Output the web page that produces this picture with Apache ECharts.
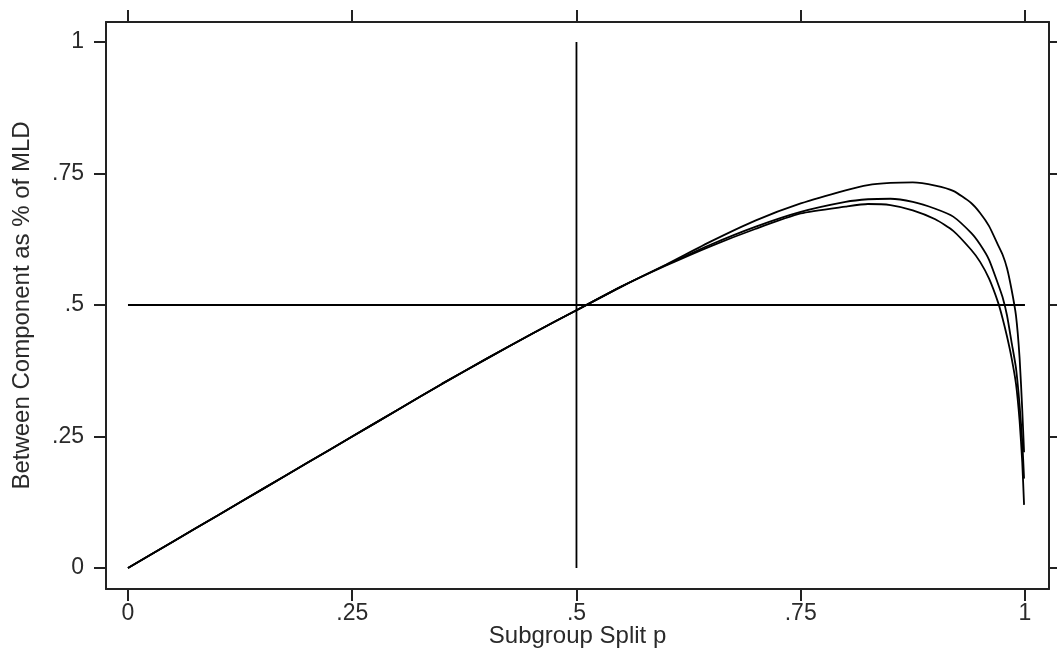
<!DOCTYPE html>
<html>
<head>
<meta charset="utf-8">
<script src="https://cdn.jsdelivr.net/npm/echarts@6/dist/echarts.min.js"></script>
<style>
html,body{margin:0;padding:0;background:#fff;}
#chart{width:1057px;height:654px;}
</style>
</head>
<body>
<div id="chart"></div>
<script>
// Subgroup split p
var pValues = [0, 0.05, 0.1, 0.15, 0.2, 0.25, 0.3, 0.35, 0.4, 0.45, 0.5, 0.55, 0.6, 0.65, 0.7, 0.75, 0.8, 0.825, 0.85, 0.875, 0.9, 0.92, 0.94, 0.95, 0.96, 0.97, 0.975, 0.98, 0.985, 0.99, 0.994, 0.997, 0.999];
// Between component as share of MLD, three curves
var curveTop    = [0, 0.05, 0.1, 0.15, 0.2, 0.25, 0.3, 0.35, 0.398, 0.445, 0.49, 0.535, 0.577, 0.621, 0.661, 0.693, 0.718, 0.728, 0.732, 0.733, 0.727, 0.717, 0.694, 0.675, 0.65, 0.614, 0.596, 0.57, 0.53, 0.48, 0.40, 0.30, 0.22];
var curveMiddle = [0, 0.05, 0.1, 0.15, 0.2, 0.25, 0.3, 0.35, 0.398, 0.445, 0.49, 0.535, 0.576, 0.615, 0.649, 0.677, 0.696, 0.701, 0.702, 0.696, 0.683, 0.668, 0.637, 0.615, 0.586, 0.54, 0.515, 0.48, 0.43, 0.38, 0.31, 0.24, 0.17];
var curveBottom = [0, 0.05, 0.1, 0.15, 0.2, 0.25, 0.3, 0.35, 0.398, 0.445, 0.49, 0.535, 0.575, 0.612, 0.645, 0.674, 0.687, 0.692, 0.690, 0.680, 0.663, 0.641, 0.605, 0.582, 0.55, 0.505, 0.475, 0.44, 0.40, 0.35, 0.28, 0.20, 0.12];
// Reference lines
var vLineX = [0.5, 0.5];
var vLineY = [0, 1];
var hLineX = [0, 1];
var hLineY = [0.5, 0.5];
// Ticks
var xTickValues = [0, 0.25, 0.5, 0.75, 1];
var xTickLabels = ['0', '.25', '.5', '.75', '1'];
var yTickValues = [0, 0.25, 0.5, 0.75, 1];
var yTickLabels = ['0', '.25', '.5', '.75', '1'];

function zip(xs, ys) { return xs.map(function (x, i) { return [x, ys[i]]; }); }
function fmt(values, labels) {
  return function (v) {
    for (var i = 0; i < values.length; i++) if (Math.abs(values[i] - v) < 1e-9) return labels[i];
    return '';
  };
}

var FONT = 'Liberation Sans, Arial, sans-serif';
var AX = '#222';
var TXT = '#2a2a2a';
var FS = 23;

function xAxisDef(pos, showLabels) {
  return {
    type: 'value', position: pos, min: -0.0245, max: 1.0268,
    axisLine: { show: true, onZero: false, lineStyle: { color: AX, width: 2 } },
    axisTick: { show: true, inside: false, length: 12, customValues: xTickValues, lineStyle: { color: AX, width: 2 } },
    axisLabel: { show: showLabels, customValues: xTickValues, formatter: fmt(xTickValues, xTickLabels), margin: 13, fontSize: FS, fontFamily: FONT, color: TXT },
    splitLine: { show: false },
    name: showLabels ? 'Subgroup Split p' : '', nameLocation: 'middle', nameGap: 35, nameMoveOverlap: false,
    nameTextStyle: { fontSize: 24, fontFamily: FONT, color: TXT }
  };
}
function yAxisDef(pos, showLabels) {
  return {
    type: 'value', position: pos, min: -0.0399, max: 1.038,
    axisLine: { show: true, onZero: false, lineStyle: { color: AX, width: 2 } },
    axisTick: { show: true, inside: false, length: 12, customValues: yTickValues, lineStyle: { color: AX, width: 2 } },
    axisLabel: { show: showLabels, customValues: yTickValues, formatter: fmt(yTickValues, yTickLabels), margin: 22, fontSize: FS, fontFamily: FONT, color: TXT },
    splitLine: { show: false },
    name: showLabels ? 'Between Component as % of MLD' : '', nameLocation: 'middle', nameGap: 72, nameRotate: 90, nameMoveOverlap: false,
    nameTextStyle: { fontSize: 24, fontFamily: FONT, color: TXT }
  };
}

function lineSeries(data, w) {
  return {
    type: 'line', data: data, xAxisIndex: 0, yAxisIndex: 0,
    showSymbol: false, symbol: 'none', smooth: 0.2,
    lineStyle: { color: '#000', width: w }, silent: true
  };
}

var chart = echarts.init(document.getElementById('chart'), null, { renderer: 'canvas' });
chart.setOption({
  animation: false,
  backgroundColor: '#fff',
  grid: { left: 106, right: 8, top: 22, bottom: 65, containLabel: false, outerBoundsMode: 'none' },
  xAxis: [xAxisDef('bottom', true), xAxisDef('top', false)],
  yAxis: [yAxisDef('left', true), yAxisDef('right', false)],
  series: [
    { type: 'line', data: zip(vLineX, vLineY), showSymbol: false, symbol: 'none', lineStyle: { color: '#000', width: 1.8 }, silent: true },
    { type: 'line', data: zip(hLineX, hLineY), showSymbol: false, symbol: 'none', lineStyle: { color: '#000', width: 1.8 }, silent: true },
    lineSeries(zip(pValues, curveTop), 1.8),
    lineSeries(zip(pValues, curveMiddle), 1.8),
    lineSeries(zip(pValues, curveBottom), 1.8)
  ]
});
</script>
</body>
</html>
